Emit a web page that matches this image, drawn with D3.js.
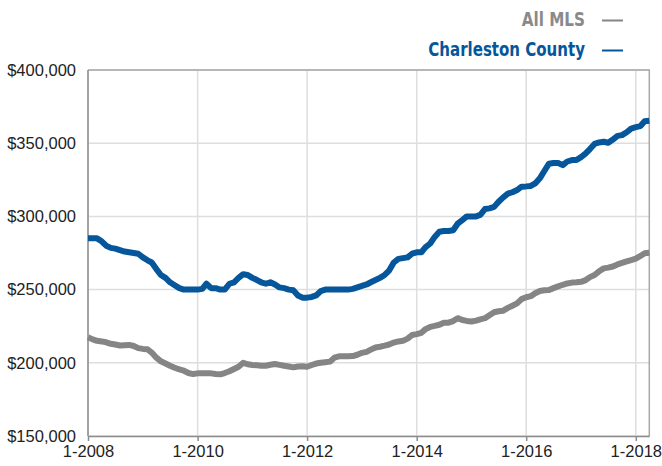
<!DOCTYPE html>
<html>
<head>
<meta charset="utf-8">
<script src="https://cdnjs.cloudflare.com/ajax/libs/d3/7.8.5/d3.min.js"></script>
<style>
  body { margin: 0; background: #fff; }
  .chart__text { font-family: "Liberation Sans", Arial, Helvetica, sans-serif; font-size: 16.5px; fill: #222; }
  .chart__legend { font-family: "Liberation Sans Narrow", "DejaVu Sans Condensed", "Liberation Sans", sans-serif; font-stretch: condensed; font-weight: bold; font-size: 20px; }
  .chart__grid { stroke: #dedede; stroke-width: 1.5; }
  .chart__frame { stroke: #a8a8a8; stroke-width: 1.5; fill: none; }
  .chart__axisline { stroke: #8c8c8c; stroke-width: 1.5; }
  .chart__line { fill: none; stroke-width: 6; stroke-linejoin: round; }
</style>
</head>
<body>
<div id="chart"></div>
<script>
// Monthly series, first value = January 2008, last = April 2018
const START_MONTH = "2008-01";

const ALL_MLS = [
  217.4, 216, 215, 214.6, 214, 213, 212.5, 211.8, 212, 212.2, 211.5, 210,
  209.5, 209.2, 207, 203.5, 201, 199.5, 198, 196.6, 195.5, 194.6, 193, 192.3,
  192.8, 192.8, 192.8, 192.8, 192.3, 192.1, 193, 194.2, 195.8, 197.3, 200, 199,
  198.5, 198.3, 198, 198, 198.7, 199.2, 198.6, 198, 197.5, 196.9, 197.5, 197.6,
  197.3, 198.5, 199.5, 200, 200.4, 200.8, 203.5, 204.4, 204.4, 204.5, 204.6, 205.5,
  206.8, 207.5, 209, 210.5, 211, 211.7, 212.5, 213.8, 214.6, 215, 216.5, 219,
  219.6, 220.5, 223, 224.5, 225.2, 226, 227.4, 227.4, 228.5, 230.5, 229.2, 228.6,
  228.2, 228.8, 229.7, 230.5, 232.5, 234.5, 235.2, 235.6, 237.5, 239, 240.6, 243.5,
  244.8, 245.5, 247.5, 249, 249.5, 249.7, 251, 252.2, 253.3, 254.2, 254.8, 255,
  255.3, 256.5, 258.5, 260, 262.5, 264.5, 265, 265.8, 267.2, 268.2, 269.3, 270.2,
  271.2, 273, 274.8, 275.2
].map(v => v * 1000);

const CHARLESTON = [
  285, 285, 285, 283, 280, 278.5, 278, 277, 276, 275.5, 275, 274.5,
  272, 270, 268.5, 264, 260, 258, 255, 253, 251, 250, 250, 250,
  250, 250.5, 254, 251, 251, 250, 250, 254, 255, 258, 260.5, 260,
  258, 256.5, 255, 254, 255, 253.5, 251.5, 251, 250, 249.5, 246, 244.5,
  244.5, 245, 246, 249, 250, 250, 250, 250, 250, 250, 250.5, 251.5,
  252.5, 253.5, 255, 256.5, 258, 260, 263, 268.5, 271, 271.5, 272, 274.5,
  275.5, 275.5, 279, 281.5, 286, 289.5, 290, 290, 290.5, 295, 297.5, 300,
  300, 300, 301, 305, 305.5, 306.5, 310, 313, 315.5, 316.5, 318, 320.3,
  320.5, 320.8, 322.5, 326, 331, 336, 336.5, 336.5, 335, 337.5, 338.5, 338.5,
  340.5, 343, 346, 349.5, 350.5, 351, 350.3, 352.5, 355, 355.5, 357.5, 360,
  361, 361.7, 365, 365.4
].map(v => v * 1000);

const Y_TICKS = [150000, 200000, 250000, 300000, 350000, 400000];
const X_TICK_YEARS = [2008, 2010, 2012, 2014, 2016, 2018];
const SERIES_NAMES = ["All MLS", "Charleston County"];
const SERIES_COLORS = ["#858585", "#05569a"];

/**
 * Chart visualization
 */
class Chart
{
  constructor()
  {
    this._w = 662;
    this._h = 466;
    this._margin = { top: 70, right: 12.7, bottom: 30, left: 88 };
    this._width = this._w - this._margin.left - this._margin.right;
    this._height = this._h - this._margin.top - this._margin.bottom;
    this._svg = null;
    this._g = null;
  }

  init()
  {
    this._svg = d3.select("#chart")
      .append("svg")
      .attr("width", this._w)
      .attr("height", this._h);

    this._g = this._svg.append("g")
      .attr("transform", "translate(" + this._margin.left + "," + this._margin.top + ")");

    return this;
  }

  render()
  {
    const start = d3.timeParse("%Y-%m")(START_MONTH);
    const months = ALL_MLS.map((d, i) => d3.timeMonth.offset(start, i));
    const series = [ALL_MLS, CHARLESTON].map(values => values.map((v, i) => ({ x: months[i], y: v })));

    // Scales
    const x = d3.scaleTime()
      .domain([months[0], months[months.length - 1]])
      .range([0, this._width]);
    const y = d3.scaleLinear()
      .domain([d3.min(Y_TICKS), d3.max(Y_TICKS)])
      .range([this._height, 0]);
    const xTicks = X_TICK_YEARS.map(yr => new Date(yr, 0, 1));

    // Grid lines
    this._g.append("g")
      .selectAll("line")
      .data(Y_TICKS)
      .join("line")
      .attr("class", "chart__grid")
      .attr("x1", 0).attr("x2", this._width)
      .attr("y1", d => y(d)).attr("y2", d => y(d));

    this._g.append("g")
      .selectAll("line")
      .data(xTicks)
      .join("line")
      .attr("class", "chart__grid")
      .attr("x1", d => x(d)).attr("x2", d => x(d))
      .attr("y1", 0).attr("y2", this._height);

    // Frame (top and right)
    this._g.append("path")
      .attr("class", "chart__frame")
      .attr("d", "M0,0H" + this._width + "V" + this._height);

    // Y axis
    const yAxis = d3.axisLeft(y)
      .tickValues(Y_TICKS)
      .tickFormat(d3.format("$,"))
      .tickSize(0)
      .tickPadding(12);
    const gY = this._g.append("g").call(yAxis);
    gY.select(".domain").remove();
    gY.selectAll("text").attr("class", "chart__text");

    // X axis
    const xAxis = d3.axisBottom(x)
      .tickValues(xTicks)
      .tickFormat(d3.timeFormat("%-m-%Y"))
      .tickSize(5)
      .tickSizeOuter(0)
      .tickPadding(4);
    const gX = this._g.append("g")
      .attr("transform", "translate(0," + this._height + ")")
      .call(xAxis);
    gX.select(".domain").attr("class", "chart__axisline");
    gX.selectAll(".tick line").attr("class", "chart__axisline");
    gX.selectAll("text").attr("class", "chart__text");

    // Left axis line
    this._g.append("line")
      .attr("class", "chart__axisline")
      .attr("x1", 0).attr("x2", 0)
      .attr("y1", 0).attr("y2", this._height);

    // Series lines
    const line = d3.line()
      .x(d => x(d.x))
      .y(d => y(d.y));

    this._g.selectAll(".chart__line")
      .data(series)
      .join("path")
      .attr("class", "chart__line")
      .attr("stroke", (d, i) => SERIES_COLORS[i])
      .attr("d", line);

    // Legend
    const legendWidths = [63.3, 156.7];
    const legend = this._svg.append("g")
      .selectAll("g")
      .data(SERIES_NAMES)
      .join("g")
      .attr("transform", (d, i) => "translate(0," + (i * 30) + ")");

    legend.append("text")
      .attr("class", "chart__legend")
      .attr("x", 585)
      .attr("y", 26)
      .attr("text-anchor", "end")
      .attr("textLength", (d, i) => legendWidths[i])
      .attr("lengthAdjust", "spacingAndGlyphs")
      .attr("fill", (d, i) => i === 0 ? "#8a8a8a" : SERIES_COLORS[i])
      .text(d => d);

    legend.append("line")
      .attr("x1", 602).attr("x2", 623)
      .attr("y1", 20.5).attr("y2", 20.5)
      .attr("stroke", (d, i) => SERIES_COLORS[i])
      .attr("stroke-width", 2);

    return this;
  }
}

new Chart().init().render();
</script>
</body>
</html>
